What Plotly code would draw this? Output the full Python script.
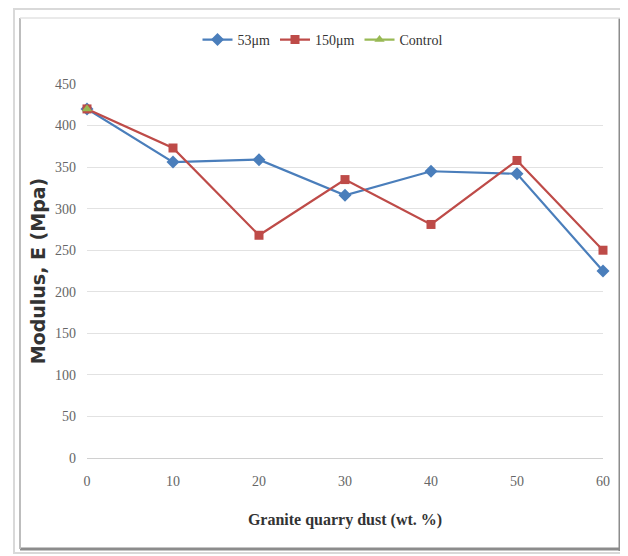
import plotly.graph_objects as go

x_vals = [0, 10, 20, 30, 40, 50, 60]
y_53 = [420, 356, 359, 316, 345, 342, 225]
y_150 = [420, 373, 268, 335, 281, 358, 250]
x_control = [0]
y_control = [420]
x_ticks = [0, 10, 20, 30, 40, 50, 60]
y_ticks = [0, 50, 100, 150, 200, 250, 300, 350, 400, 450]

OFF = 8  # default page body margin
W, H = 628 - OFF, 556 - OFF
# plot area in page pixels
L, R, T, B = 87, 603, 84, 458

def px(x):
    return (x - L) / (R - L)

def py(y):
    return (B - y) / (B - T)

fig = go.Figure()
fig.add_trace(go.Scatter(x=x_vals, y=y_53, name="53μm", mode="lines+markers",
                         line=dict(color="#4a7ebb", width=2.2),
                         marker=dict(symbol="diamond", size=10, color="#4a7ebb"),
                         cliponaxis=False))
fig.add_trace(go.Scatter(x=x_vals, y=y_150, name="150μm", mode="lines+markers",
                         line=dict(color="#be4b48", width=2.2),
                         marker=dict(symbol="square", size=9, color="#be4b48"),
                         cliponaxis=False))
fig.add_trace(go.Scatter(x=x_control, y=y_control, name="Control", mode="lines+markers",
                         line=dict(color="#98b954", width=2.2),
                         marker=dict(symbol="triangle-up", size=9, color="#98b954"),
                         cliponaxis=False))

shapes = [
    dict(type="rect", xref="paper", yref="paper", x0=px(14), x1=px(623), y0=py(553), y1=py(9),
         line=dict(color="#d9d9d9", width=2), layer="below"),
    dict(type="line", xref="paper", yref="paper", x0=px(620), x1=px(620), y0=py(551), y1=py(18),
         line=dict(color="#8c8c8c", width=3)),
    dict(type="line", xref="paper", yref="paper", x0=px(20), x1=px(621), y0=py(549), y1=py(549),
         line=dict(color="#8c8c8c", width=3)),
    dict(type="line", xref="paper", yref="paper", x0=px(20), x1=px(20), y0=py(549), y1=py(18),
         line=dict(color="#bdbdbd", width=2)),
    dict(type="line", xref="paper", yref="paper", x0=px(20), x1=px(620), y0=py(18), y1=py(18),
         line=dict(color="#e3e3e3", width=1.5)),
]

fig.update_layout(
    width=W, height=H,
    margin=dict(l=L - OFF, r=628 - R, t=T - OFF, b=556 - B),
    paper_bgcolor="white", plot_bgcolor="white",
    font=dict(family="Liberation Serif", color="#555555", size=13),
    showlegend=True,
    legend=dict(orientation="h", x=0.5 * (px(205) + px(440)), xanchor="center",
                y=py(40), yanchor="middle",
                font=dict(family="Liberation Serif", size=14, color="#333333"),
                itemwidth=30, tracegroupgap=0),
    xaxis=dict(range=[0, 60], tickvals=x_ticks, ticktext=[str(v) for v in x_ticks],
               showgrid=False, showline=True, linecolor="#d0d0d0", linewidth=1,
               zeroline=False, ticks="", ticklabelstandoff=10,
               tickfont=dict(family="Liberation Serif", size=14, color="#666666"),
               title=dict(text="<b>Granite quarry dust (wt. %)</b>", standoff=26,
                          font=dict(family="Liberation Serif", size=16, color="#333333"))),
    yaxis=dict(range=[0, 450], tickvals=y_ticks, ticktext=[str(v) for v in y_ticks],
               showgrid=True, gridcolor="#e2e2e2", gridwidth=1,
               showline=False, zeroline=False, ticks="", ticklabelstandoff=10,
               tickfont=dict(family="Liberation Serif", size=14, color="#666666"),
               title=dict(text="<b>Modulus, E (Mpa)</b>", standoff=4,
                          font=dict(family="DejaVu Sans", size=19, color="#333333"))),
    shapes=shapes,
)

fig.write_html("out.html")
